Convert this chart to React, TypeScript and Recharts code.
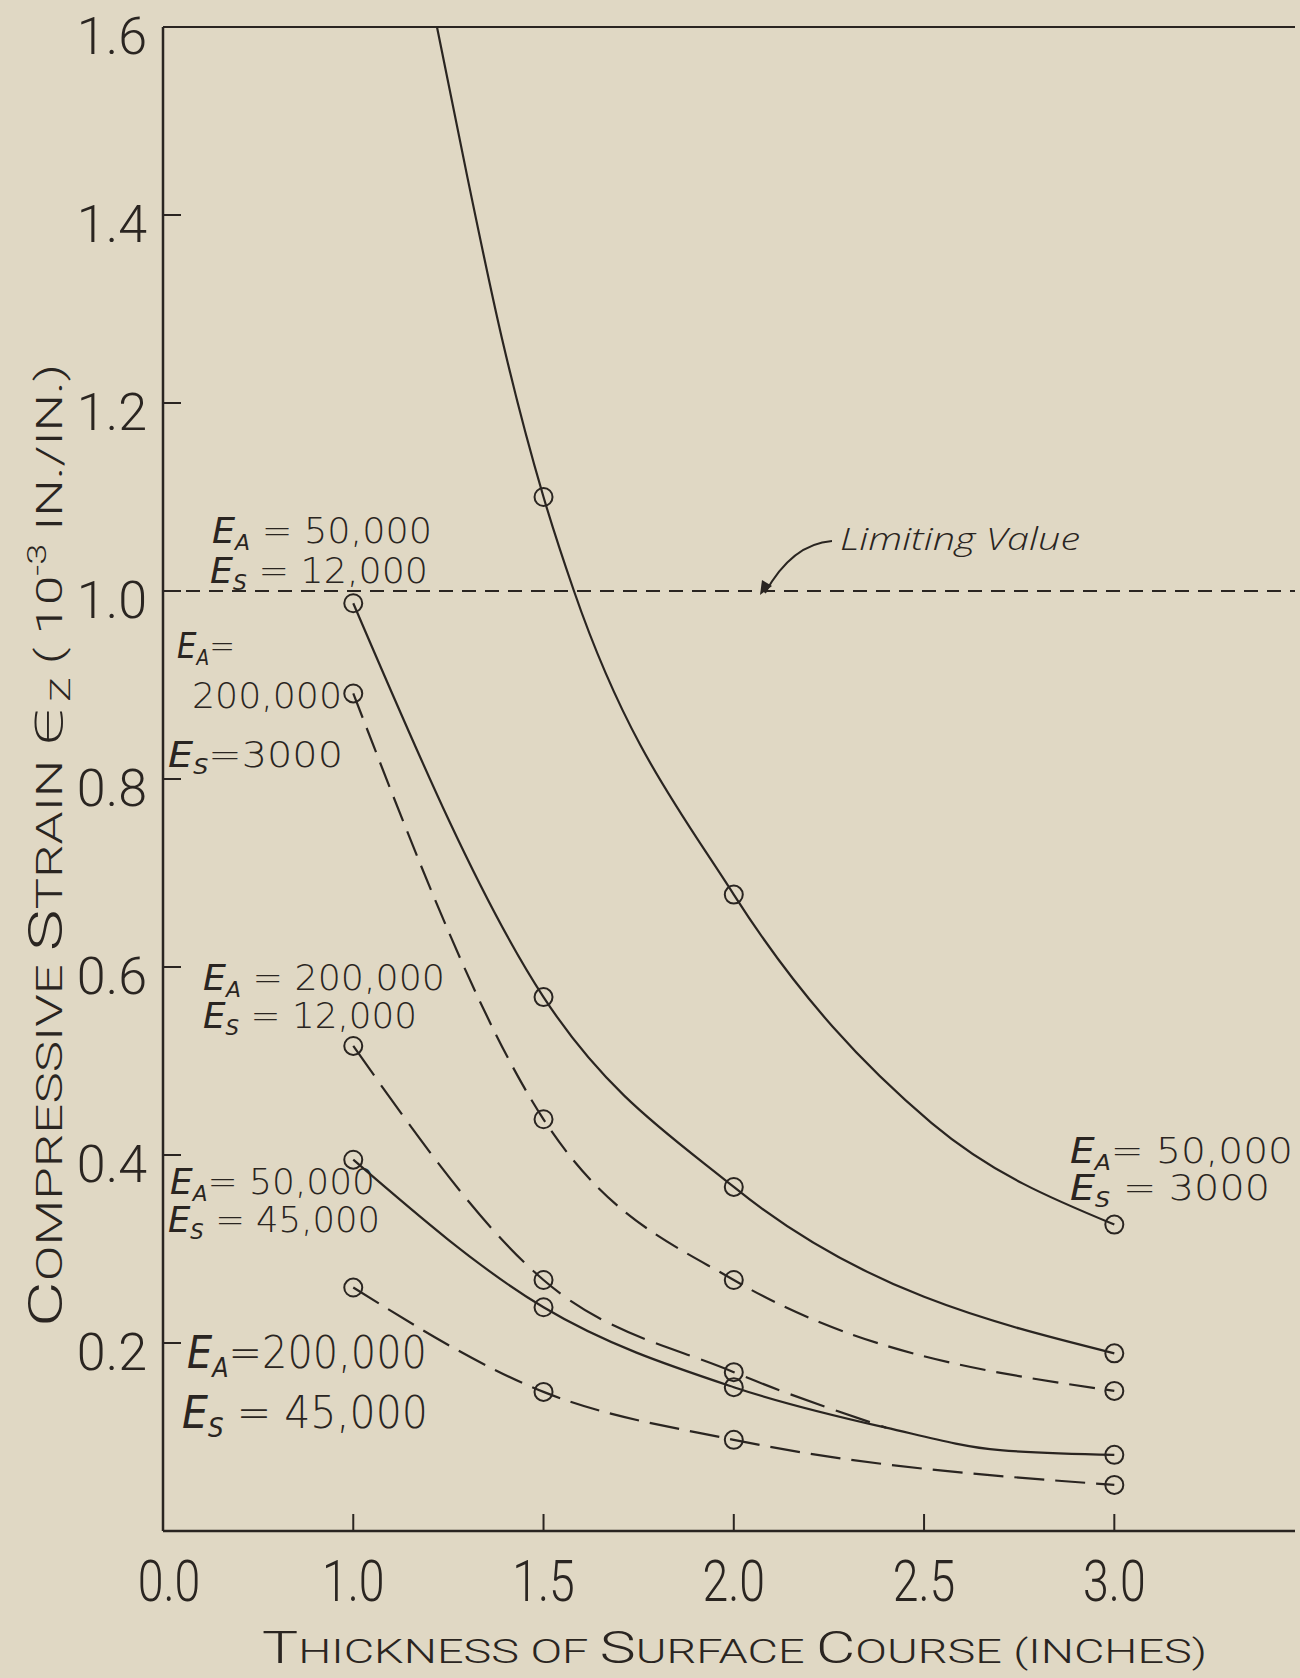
import React from 'react';
import { LineChart, Line, XAxis, YAxis, ReferenceLine } from 'recharts';

const INK = '#2a2521';
const PAPER = '#e0d8c4';

const xTicks = [0.5, 1.0, 1.5, 2.0, 2.5, 3.0];
const xTickLabels = ['0.0', '1.0', '1.5', '2.0', '2.5', '3.0'];
const yTicks = [0.2, 0.4, 0.6, 0.8, 1.0, 1.2, 1.4, 1.6];

const thickness = [1.0, 1.5, 2.0, 3.0];
const tested = [true, true, true, true];

// E_A = 50,000 / E_S = 3000 : runs off the top, extra entries
const a50s3Thickness = [1.22, 1.3, 1.39, 1.5, 1.58, 2.0, 2.52, 3.0];
const a50s3Strain = [1.6, 1.44, 1.27, 1.1, 1.0, 0.677, 0.434, 0.326];
const a50s3Tested = [false, false, false, true, false, true, false, true];

const a50s12Strain = [0.987, 0.568, 0.366, 0.189];
const a200s3Strain = [0.891, 0.438, 0.267, 0.149];

// E_A = 200,000 / E_S = 12,000 joins the 45,000 curve near 2.4
const a200s12Thickness = [1.0, 1.5, 2.0, 2.4];
const a200s12Strain = [0.516, 0.267, 0.169, 0.11];
const a200s12Tested = [true, true, true, false];

const a50s45Thickness = [1.0, 1.5, 2.0, 2.4, 2.7, 3.0];
const a50s45Strain = [0.395, 0.238, 0.153, 0.11, 0.086, 0.081];
const a50s45Tested = [true, true, true, false, false, true];

const a200s45Strain = [0.259, 0.148, 0.097, 0.049];

const limitingStrain = 1.0;

const toRows = (xs: number[], ys: number[], marks: boolean[]) =>
  xs.map((t, i) => ({ thickness: t, strain: ys[i], tested: marks[i] }));

const series = [
  { key: 'a50s3', rows: toRows(a50s3Thickness, a50s3Strain, a50s3Tested), dash: undefined },
  { key: 'a50s12', rows: toRows(thickness, a50s12Strain, tested), dash: undefined },
  { key: 'a200s3', rows: toRows(thickness, a200s3Strain, tested), dash: '26 11' },
  { key: 'a200s12', rows: toRows(a200s12Thickness, a200s12Strain, a200s12Tested), dash: '36 12' },
  { key: 'a50s45', rows: toRows(a50s45Thickness, a50s45Strain, a50s45Tested), dash: undefined },
  { key: 'a200s45', rows: toRows(thickness, a200s45Strain, tested), dash: '30 11' },
];

const tickFont = "Roboto, 'DejaVu Sans', sans-serif";
const handFont = "'DejaVu Sans', 'Open Sans', sans-serif";

const YTick = (props: any) => {
  const { x, y, payload } = props;
  const v = payload.value as number;
  return (
    <g>
      {v < 1.6 && <line x1={x} y1={y} x2={x + 18} y2={y} stroke={INK} strokeWidth={2} />}
      <text x={x - 16} y={y + 27} textAnchor="end" fontSize={52} fontWeight={300}
        fontFamily={tickFont} fill={INK}>
        {v.toFixed(1)}
      </text>
    </g>
  );
};

const XTick = (props: any) => {
  const { x, y, payload, index } = props;
  const v = payload.value as number;
  return (
    <g>
      {v > 0.5 && <line x1={x} y1={y} x2={x} y2={y - 17} stroke={INK} strokeWidth={2} />}
      <g transform={`translate(${x + (v === 0.5 ? 6 : 0)},${y + 70}) scale(0.8,1)`}>
        <text x={0} y={0} textAnchor="middle" fontSize={58} fontWeight={300}
          fontFamily={tickFont} fill={INK}>
          {xTickLabels[index] ?? v.toFixed(1)}
        </text>
      </g>
    </g>
  );
};

const renderDot = (props: any) => {
  const { cx, cy, payload, index } = props;
  if (!payload.tested) return <g key={`d-${index}`} />;
  return <circle key={`d-${index}`} cx={cx} cy={cy} r={9} fill="none" stroke={INK} strokeWidth={2} />;
};

// E_x = value lines, hand lettered
const Modulus = ({ x, y, sub, rest, size, width }: any) => (
  <text x={x} y={y} fontSize={size} fontWeight={300} fontFamily={handFont} fill={INK}
    textLength={width} lengthAdjust="spacingAndGlyphs">
    <tspan fontStyle="italic">E</tspan>
    <tspan fontSize={size * 0.6} dy={size * 0.2} fontStyle="italic">{sub}</tspan>
    <tspan dy={-size * 0.2}>{rest}</tspan>
  </text>
);

const Overlay = () => (
  <svg width={1300} height={1678} style={{ position: 'absolute', left: 0, top: 0, pointerEvents: 'none' }}>
    <Modulus x={212} y={543} sub="A" rest=" = 50,000" size={36} width={220} />
    <Modulus x={210} y={583} sub="S" rest=" = 12,000" size={36} width={218} />

    <Modulus x={177} y={658} sub="A" rest="=" size={35} width={58} />
    <text x={192} y={708} fontSize={36} fontWeight={300} fontFamily={handFont} fill={INK}
      textLength={150} lengthAdjust="spacingAndGlyphs">200,000</text>
    <Modulus x={168} y={767} sub="S" rest="=3000" size={36} width={175} />

    <Modulus x={203} y={990} sub="A" rest=" = 200,000" size={35} width={242} />
    <Modulus x={203} y={1028} sub="S" rest=" = 12,000" size={35} width={214} />

    <Modulus x={170} y={1194} sub="A" rest="= 50,000" size={35} width={205} />
    <Modulus x={168} y={1232} sub="S" rest=" = 45,000" size={35} width={212} />

    <Modulus x={187} y={1368} sub="A" rest="=200,000" size={45} width={240} />
    <Modulus x={182} y={1428} sub="S" rest=" = 45,000" size={45} width={246} />

    <Modulus x={1070} y={1163} sub="A" rest="= 50,000" size={35} width={223} />
    <Modulus x={1070} y={1200} sub="S" rest=" = 3000" size={35} width={200} />

    <text x={840} y={550} fontSize={31} fontStyle="italic" fontWeight={300}
      fontFamily="'Open Sans', 'DejaVu Sans', sans-serif"
      fill={INK} textLength={240} lengthAdjust="spacingAndGlyphs">Limiting Value</text>
    <path d="M 832 541 C 805 543, 782 562, 765 593" fill="none" stroke={INK} strokeWidth={2} />
    <path d="M 760 595 L 762 580 L 772 586 Z" fill={INK} />

    <text x={262} y={1663} fontSize={34} fontWeight={300} fontFamily={tickFont} fill={INK}
      textLength={945} lengthAdjust="spacingAndGlyphs">
      <tspan fontSize={44}>T</tspan>HICKNESS{'   '}OF{'   '}<tspan fontSize={44}>S</tspan>URFACE{'   '}
      <tspan fontSize={44}>C</tspan>OURSE (INCHES)
    </text>

    <text transform="translate(62,1327) rotate(-90)" x={0} y={0} fontSize={36} fontWeight={300}
      fontFamily={tickFont} fill={INK} textLength={963} lengthAdjust="spacingAndGlyphs">
      <tspan fontSize={48}>C</tspan>OMPRESSIVE{'   '}<tspan fontSize={48}>S</tspan>TRAIN{'   '}
      <tspan fontSize={50}>ϵ</tspan>
      <tspan fontSize={28} dy={8}>Z</tspan>
      <tspan dy={-8}> ( 10</tspan>
      <tspan fontSize={26} dy={-16}>-3</tspan>
      <tspan dy={16}> IN./IN.)</tspan>
    </text>
  </svg>
);

export default function App() {
  return (
    <div style={{ position: 'absolute', left: 0, top: 0, width: 1300, height: 1678, background: PAPER, overflow: 'hidden' }}>
      <style>{'html, body { margin: 0; overflow: hidden; }'}</style>
      {/* clip the chart a few px short of the page edge: the sheet has no right frame */}
      <div style={{ position: 'absolute', left: 0, top: 0, width: 1295, height: 1678, overflow: 'hidden' }}>
        <LineChart width={1316} height={1678} margin={{ top: 27, right: 0, bottom: 87, left: 103 }}
          accessibilityLayer={false}>
          <XAxis
            type="number"
            dataKey="thickness"
            domain={[0.5, 3.53]}
            ticks={xTicks}
            interval={0}
            height={60}
            tickSize={0}
            tickMargin={0}
            tickLine={false}
            tick={<XTick />}
            axisLine={{ stroke: INK, strokeWidth: 2.5 }}
            allowDataOverflow
          />
          <YAxis
            type="number"
            domain={[0, 1.6]}
            ticks={yTicks}
            interval={0}
            width={60}
            tickSize={0}
            tickMargin={0}
            tickLine={false}
            tick={<YTick />}
            axisLine={{ stroke: INK, strokeWidth: 2.5 }}
            allowDataOverflow
          />
          <ReferenceLine y={1.6} stroke={INK} strokeWidth={2} />
          <ReferenceLine y={limitingStrain} stroke={INK} strokeWidth={1.8} strokeDasharray="14 9" />
          {series.map((s) => (
            <Line
              key={s.key}
              data={s.rows}
              dataKey="strain"
              type="monotone"
              stroke={INK}
              strokeWidth={2.2}
              strokeDasharray={s.dash}
              dot={renderDot}
              activeDot={false}
              isAnimationActive={false}
            />
          ))}
        </LineChart>
      </div>
      <Overlay />
    </div>
  );
}
